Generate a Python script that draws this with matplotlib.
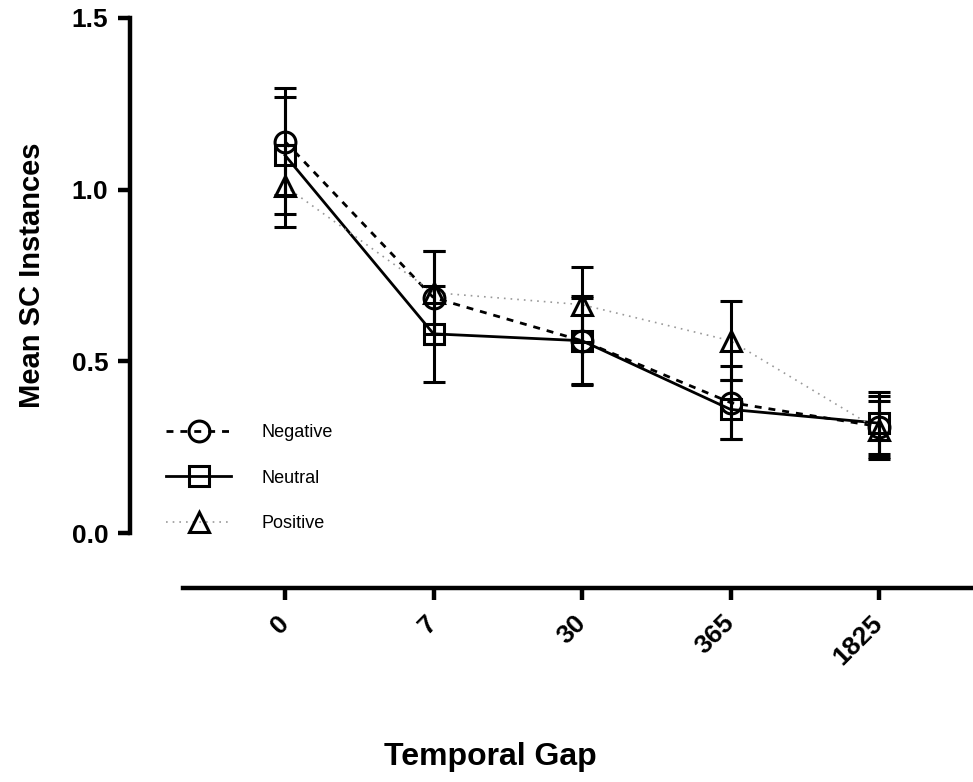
import matplotlib.pyplot as plt
import numpy as np

gaps = ["0", "7", "30", "365", "1825"]
series = ["Negative", "Neutral", "Positive"]
neg_mean = [1.14, 0.685, 0.56, 0.38, 0.31]
neg_err = [0.155, 0.135, 0.13, 0.105, 0.09]
neu_mean = [1.10, 0.58, 0.56, 0.36, 0.32]
neu_err = [0.17, 0.14, 0.125, 0.085, 0.09]
pos_mean = [1.01, 0.70, 0.665, 0.56, 0.30]
pos_err = [0.12, 0.12, 0.11, 0.115, 0.085]

plt.rcParams["font.family"] = ["Liberation Sans", "DejaVu Sans"]

fig = plt.figure(figsize=(9.73, 7.82), dpi=100)
ax = fig.add_axes([130 / 973, (782 - 588) / 782, (973 - 130) / 973, (588 - 11) / 782])

x = np.arange(len(gaps))
styles = [
    (neg_mean, neg_err, "o", (0, (2.5, 2.5)), "black", 2.0),
    (neu_mean, neu_err, "s", "-", "black", 2.0),
    (pos_mean, pos_err, "^", (0, (1, 3)), "#999999", 1.2),
]
for m, e, mk, ls, lc, lw in styles:
    ax.errorbar(x, m, yerr=e, fmt="none", ecolor="black", elinewidth=2.2,
                capsize=8, capthick=2.2, zorder=3)
    ax.plot(x, m, linestyle=ls, color=lc, linewidth=lw, zorder=2)
    ax.plot(x, m, linestyle="none", marker=mk, markersize=15,
            markerfacecolor="none", markeredgecolor="black",
            markeredgewidth=2.2, zorder=4)

handles = []
for m, e, mk, ls, lc, lw in styles:
    h, = ax.plot([], [], linestyle=ls, color=lc, linewidth=lw, marker=mk,
                 markersize=15, markerfacecolor="none",
                 markeredgecolor="black", markeredgewidth=2.2)
    handles.append(h)
ax.legend(handles, series, loc="upper left",
          bbox_to_anchor=(150 / 973, (782 - 408) / 782),
          bbox_transform=fig.transFigure, frameon=False,
          fontsize=13, handlelength=3.6, labelspacing=1.58,
          handletextpad=1.7)

ax.set_xlim(-1.044, 4.633)
ax.set_ylim(-0.16, 1.52)
ax.set_xticks(x)
ax.set_xticklabels(gaps, rotation=45, ha="right", va="center",
                   rotation_mode="anchor", fontsize=19, fontweight="bold")
ax.set_yticks([0, 0.5, 1.0, 1.5])
ax.set_yticklabels(["0.0", "0.5", "1.0", "1.5"], fontsize=19,
                   fontweight="bold")

for s in ["top", "right"]:
    ax.spines[s].set_visible(False)
ax.spines["left"].set_bounds(0, 1.5)
ax.spines["bottom"].set_bounds(-0.687, 4.633)
for s in ["left", "bottom"]:
    ax.spines[s].set_linewidth(3.2)
ax.tick_params(axis="both", direction="out", length=8.5, width=3.2)
ax.tick_params(axis="y", pad=7)
ax.tick_params(axis="x", pad=14)

ax.set_ylabel("Mean SC Instances", fontsize=21, fontweight="bold")
ax.yaxis.set_label_coords(-0.10, 0.542)
fig.text(490 / 973, (782 - 757) / 782, "Temporal Gap", fontsize=23,
         fontweight="bold", ha="center", va="center")

fig.savefig("out.png", dpi=100)
